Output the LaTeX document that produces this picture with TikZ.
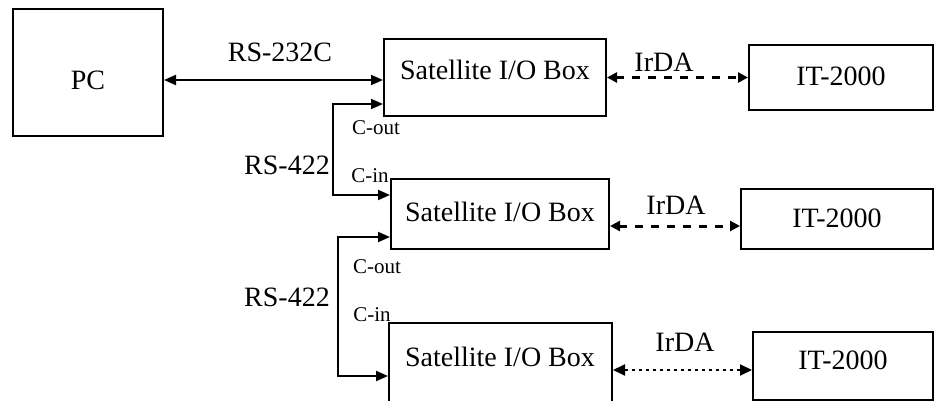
\documentclass[tikz,border=0pt]{standalone}
\usepackage{fontspec}
\setmainfont{Liberation Serif}
\usetikzlibrary{arrows.meta}
\begin{document}
\begin{tikzpicture}[x=1pt,y=-1pt,
  box/.style={draw,line width=2pt,inner sep=0pt,rectangle},
  big/.style={font=\fontsize{28}{30}\selectfont,inner sep=0pt},
  small/.style={font=\fontsize{21}{23}\selectfont,inner sep=0pt},
  tip/.style={line width=2pt,{Triangle[length=12pt,width=10pt]}-{Triangle[length=12pt,width=10pt]}},
  irda/.style={line width=3pt,dash pattern=on 8pt off 8pt,{Triangle[length=10pt,width=10pt]}-{Triangle[length=10pt,width=10pt]}},
  irdadot/.style={line width=2pt,dash pattern=on 3pt off 4pt,{Triangle[length=12pt,width=11pt]}-{Triangle[length=12pt,width=11pt]}}
]
\useasboundingbox (0,0) rectangle (935,401);
% boxes
\node[box,minimum width=150pt,minimum height=127pt] (pc) at (88,72.5) {};
\node[big] (pct) at (88,80) {PC};
\node[box,minimum width=222pt,minimum height=77pt] (s1) at (495,77.5) {};
\node[box,minimum width=218pt,minimum height=70pt] (s2) at (500,214) {};
\node[box,minimum width=223pt,minimum height=110pt] (s3) at (500.5,378) {};
\node[box,minimum width=184pt,minimum height=65pt] (t1) at (841,77.5) {};
\node[box,minimum width=192pt,minimum height=60pt] (t2) at (837,219) {};
\node[box,minimum width=180pt,minimum height=68pt] (t3) at (843,366) {};
% box texts
\node[big] (s1t) at (495,70) {Satellite I/O Box};
\node[big] (s2t) at (500,212) {Satellite I/O Box};
\node[big] (s3t) at (500,357) {Satellite I/O Box};
\node[big] (t1t) at (841,76) {IT-2000};
\node[big] (t2t) at (837,218) {IT-2000};
\node[big] (t3t) at (843,360) {IT-2000};
% helper coordinates
\coordinate (ypc) at (0,80);
\coordinate (ya) at (333,104);
\coordinate (yb) at (333,195);
\coordinate (yc) at (338,237);
\coordinate (yd) at (338,376);
\coordinate (i2) at (0,226);
\coordinate (i3) at (0,370);
% connectors
\draw[tip] (pc.east |- ypc) -- (s1.west |- ypc);
\draw[tip] (s1.west |- ya) -- (ya) -- (yb) -- (s2.west |- yb);
\draw[tip] (s2.west |- yc) -- (yc) -- (yd) -- (s3.west |- yd);
\draw[irda] (s1.east) -- (t1.west);
\draw[irda] (s2.east |- i2) -- (t2.west |- i2);
\draw[irdadot] (s3.east |- i3) -- (t3.west |- i3);
% labels
\node[big] (l232) at (280,52) {RS-232C};
\node[big] (l422a) at (287,165) {RS-422};
\node[big] (l422b) at (287,297) {RS-422};
\node[big] (ir1) at (664,62) {IrDA};
\node[big] (ir2) at (676,205) {IrDA};
\node[big] (ir3) at (685,342) {IrDA};
\node[small] (co1) at (376,128) {C-out};
\node[small] (ci1) at (370,176) {C-in};
\node[small] (co2) at (377,267) {C-out};
\node[small] (ci2) at (372,315) {C-in};
\end{tikzpicture}
\end{document}
